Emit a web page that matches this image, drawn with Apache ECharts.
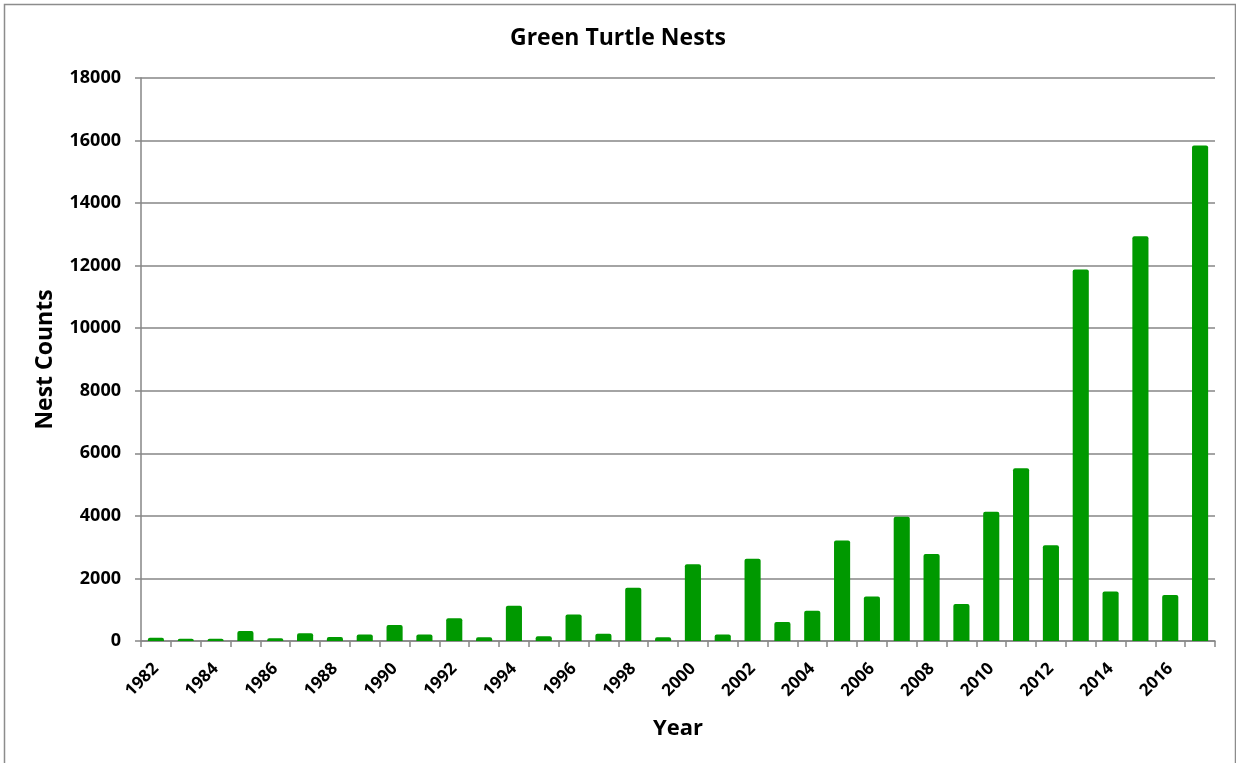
<!DOCTYPE html>
<html>
<head>
<meta charset="utf-8">
<script src="https://cdn.jsdelivr.net/npm/echarts@6/dist/echarts.min.js"></script>
<style>
  html, body { margin: 0; padding: 0; background: #ffffff; }
  #chart { width: 1236px; height: 763px; }
</style>
</head>
<body>
<div id="chart"></div>
<script>
// Annual green turtle nest counts
const years = [
  '1982','1983','1984','1985','1986','1987','1988','1989','1990','1991',
  '1992','1993','1994','1995','1996','1997','1998','1999','2000','2001',
  '2002','2003','2004','2005','2006','2007','2008','2009','2010','2011',
  '2012','2013','2014','2015','2016','2017'
];
const nestCounts = [
  100, 70, 70, 320, 90, 245, 130, 210, 510, 210,
  730, 120, 1130, 150, 850, 235, 1705, 120, 2450, 205,
  2630, 610, 970, 3210, 1420, 3970, 2780, 1180, 4130, 5520,
  3060, 11880, 1580, 12940, 1470, 15840
];
const yTicks = { min: 0, max: 18000, step: 2000 };

const FONT = '"Open Sans", "Liberation Sans", sans-serif';
const GRAY = '#868686';

const chart = echarts.init(document.getElementById('chart'), null, { renderer: 'canvas' });
chart.setOption({
  backgroundColor: '#ffffff',
  animation: false,
  graphic: [{
    type: 'rect',
    shape: { x: 4.5, y: 4.5, width: 1231, height: 800 },
    style: { fill: 'none', stroke: '#8c8c8c', lineWidth: 1.5 },
    silent: true
  }],
  title: {
    text: 'Green Turtle Nests',
    left: 'center',
    top: 22,
    textStyle: { fontFamily: FONT, fontWeight: 'bold', fontSize: 23, color: '#000' }
  },
  grid: { left: 141, right: 21, top: 78, bottom: 122, containLabel: false },
  xAxis: {
    type: 'category',
    data: years,
    name: 'Year',
    nameLocation: 'middle',
    nameGap: 77,
    nameTextStyle: { fontFamily: FONT, fontWeight: 'bold', fontSize: 22, color: '#000' },
    axisLine: { show: true, lineStyle: { color: GRAY, width: 1.5 } },
    axisTick: { show: true, interval: 0, length: 6, lineStyle: { color: GRAY, width: 1.5 } },
    axisLabel: {
      interval: 1,
      rotate: 45,
      margin: 25,
      fontFamily: FONT,
      fontWeight: 'bold',
      fontSize: 17,
      color: '#000'
    }
  },
  yAxis: {
    type: 'value',
    min: yTicks.min,
    max: yTicks.max,
    interval: yTicks.step,
    name: 'Nest Counts',
    nameLocation: 'middle',
    nameGap: 84,
    nameRotate: 90,
    nameTextStyle: { fontFamily: FONT, fontWeight: 'bold', fontSize: 23, color: '#000' },
    axisLine: { show: true, lineStyle: { color: GRAY, width: 1.5 } },
    axisTick: { show: true, length: 6, lineStyle: { color: GRAY, width: 1.5 } },
    splitLine: { show: true, lineStyle: { color: GRAY, width: 1.5 } },
    axisLabel: {
      margin: 20,
      formatter: v => String(v),
      fontFamily: FONT,
      fontWeight: 'bold',
      fontSize: 18,
      color: '#000'
    }
  },
  series: [{
    type: 'bar',
    data: nestCounts,
    barCategoryGap: '46%',
    itemStyle: { color: '#009900', borderRadius: [2, 2, 0, 0] }
  }]
});
</script>
</body>
</html>
